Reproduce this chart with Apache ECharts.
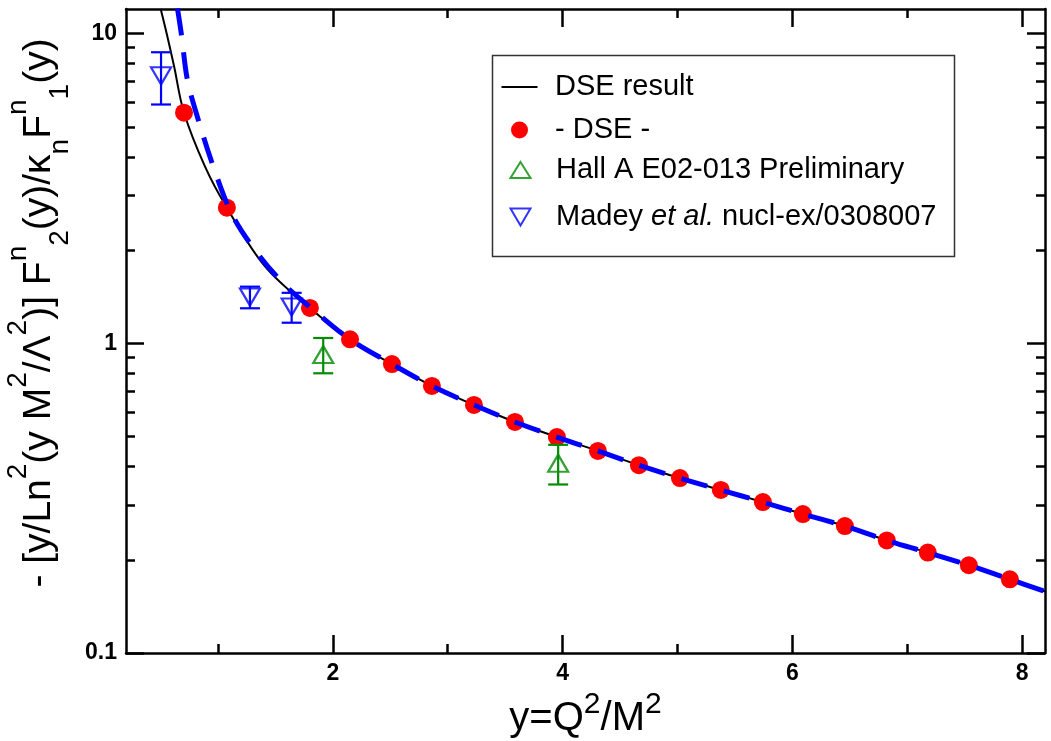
<!DOCTYPE html>
<html><head><meta charset="utf-8">
<script src="https://cdn.jsdelivr.net/npm/echarts@6/dist/echarts.min.js"></script>
<style>html,body{margin:0;padding:0;background:#fff}#c{width:1051px;height:741px}</style>
</head><body><div id="c"></div>
<script>
// ---- data ----
const dseX = [0.705, 1.078, 1.801, 2.150, 2.515, 2.863, 3.229, 3.586, 3.951, 4.308, 4.665, 5.022, 5.378, 5.744, 6.092, 6.458, 6.823, 7.180, 7.537, 7.894];
const dseY = [5.55, 2.74, 1.30, 1.03, 0.857, 0.728, 0.632, 0.557, 0.498, 0.449, 0.404, 0.367, 0.336, 0.307, 0.281, 0.257, 0.231, 0.211, 0.192, 0.173];

const curveX = [0.502, 0.554, 0.618, 0.705, 0.888, 1.078, 1.41, 1.801, 2.150, 2.515, 2.863, 3.229, 3.586, 3.951, 4.308, 4.665, 5.022, 5.378, 5.744, 6.092, 6.458, 6.823, 7.180, 7.537, 7.894, 8.2];
const curveY = [12.0, 10.0, 7.85, 5.55, 3.72, 2.74, 1.77, 1.30, 1.03, 0.857, 0.728, 0.632, 0.557, 0.498, 0.449, 0.404, 0.367, 0.336, 0.307, 0.281, 0.257, 0.231, 0.211, 0.192, 0.173, 0.158];

const dashX = [0.648, 0.685, 0.734, 0.829, 0.96, 1.12, 1.323, 1.569, 1.801, 2.150, 2.515, 2.863, 3.229, 3.586, 3.951, 4.308, 4.665, 5.022, 5.378, 5.744, 6.092, 6.458, 6.823, 7.180, 7.537, 7.894, 8.2];
const dashY = [12.05, 9.77, 7.1, 5.27, 3.72, 2.62, 2.00, 1.56, 1.31, 1.03, 0.857, 0.728, 0.632, 0.557, 0.498, 0.449, 0.404, 0.367, 0.336, 0.307, 0.281, 0.257, 0.231, 0.211, 0.192, 0.173, 0.158];

const hallX = [1.917, 3.962];
const hallY = [0.92, 0.41];
const hallErr = [0.12, 0.06];

const madeyX = [0.505, 1.279, 1.642];
const madeyY = [7.3, 1.41, 1.31];
const madeyErr = [1.40, 0.113, 0.145];

const xMajorTicks = [2, 4, 6, 8];
const xMinorTicks = [1, 3, 5, 7];
const yMajorTicks = [0.1, 1, 10];
const yMinorTicks = [0.2, 0.3, 0.4, 0.5, 0.6, 0.7, 0.8, 0.9, 2, 3, 4, 5, 6, 7, 8, 9];

const names = ['DSE result', '- DSE -', 'Hall A E02-013 Preliminary', 'Madey et al. nucl-ex/0308007'];
const xTitle = '{b|y=Q}{sup|2}{b|/M}{sup|2}';
const yTitle = '{b|- [y/Ln}{sup|2}{b|(y M}{sup|2}{b|/Λ}{sup|2}{b|)] F}{sup|n}{sub|2}{b|(y)/κ}{sub|n}{b|F}{sup|n}{sub|1}{b|(y)}';

// ---- chart ----
const FF = '"Liberation Sans", Arial, Helvetica, sans-serif';
const zip = (a, b) => a.map((v, i) => [v, b[i]]);
const errData = (x, y, e) => x.map((v, i) => [v, y[i] - e[i], y[i] + e[i]]);
const black = '#000000', red = '#ff0000', blue = '#0000ff', green = '#008b00';

const lineStyle = { color: black, width: 2.5 };
function tick(vals, len) {
  return { show: true, inside: true, length: len, customValues: vals, lineStyle: { color: black, width: 2.5 } };
}
const X0 = 0.2, X1 = 8.2, Y0 = 0.1, Y1 = 12;
const tickFont = { fontSize: 23, fontWeight: 'bold', color: black, fontFamily: FF, margin: 9 };
function xAx(pos, vals, len, line, label) {
  return { type: 'value', position: pos, min: X0, max: X1, gridIndex: 0,
    axisLine: { show: line, onZero: false, lineStyle },
    axisTick: tick(vals, len), splitLine: { show: false },
    axisLabel: label ? Object.assign({ show: true, customValues: vals }, tickFont) : { show: false } };
}
function yAx(pos, vals, len, line, label) {
  return { type: 'log', logBase: 10, position: pos, min: Y0, max: Y1, gridIndex: 0,
    axisLine: { show: line, onZero: false, lineStyle },
    axisTick: tick(vals, len), splitLine: { show: false }, minorTick: { show: false },
    axisLabel: label ? Object.assign({ show: true, customValues: vals,
      formatter: v => String(+Number(v).toPrecision(6)) }, tickFont) : { show: false } };
}
const xAxes = [xAx('bottom', xMajorTicks, 18, true, true), xAx('bottom', xMinorTicks, 9, false, false),
               xAx('top', xMajorTicks, 18, true, false), xAx('top', xMinorTicks, 9, false, false)];
const yAxes = [yAx('left', yMajorTicks, 18, true, true), yAx('left', yMinorTicks, 9, false, false),
               yAx('right', yMajorTicks, 18, true, false), yAx('right', yMinorTicks, 9, false, false)];

// rich tokens: all share one line height; asymmetric padding shifts sup up / sub down
xAxes[0].name = xTitle;
xAxes[0].nameLocation = 'middle';
xAxes[0].nameGap = 27;
xAxes[0].nameTextStyle = { color: black, fontFamily: FF, rich: {
  b: { fontSize: 40, lineHeight: 60, color: black, fontFamily: FF },
  sup: { fontSize: 30, lineHeight: 60, padding: [0, 0, 28, 0], color: black, fontFamily: FF } } };

yAxes[0].name = yTitle;
yAxes[0].nameLocation = 'middle';
yAxes[0].nameRotate = 90;
yAxes[0].nameGap = 36;
yAxes[0].nameTextStyle = { color: black, fontFamily: FF, padding: [0, 0, 0, 36], rich: {
  b: { fontSize: 39, lineHeight: 80, color: black, fontFamily: FF },
  sup: { fontSize: 28, lineHeight: 80, padding: [0, 0, 42, 0], color: black, fontFamily: FF },
  sub: { fontSize: 28, lineHeight: 80, padding: [42, 0, 0, 0], color: black, fontFamily: FF } } };

function errorBars(color) {
  return function (params, api) {
    const x = api.value(0);
    const lo = api.coord([x, api.value(1)]);
    const hi = api.coord([x, api.value(2)]);
    const h = 10;
    const st = { stroke: color, lineWidth: 2.2, fill: 'none' };
    return { type: 'group', children: [
      { type: 'line', shape: { x1: lo[0], y1: lo[1], x2: hi[0], y2: hi[1] }, style: st },
      { type: 'line', shape: { x1: lo[0] - h, y1: lo[1], x2: lo[0] + h, y2: lo[1] }, style: st },
      { type: 'line', shape: { x1: hi[0] - h, y1: hi[1], x2: hi[0] + h, y2: hi[1] }, style: st } ] };
  };
}

const TEXT_X = 555, ICON_CX = 519.5;
function leg(name, rowY, icon, iw, ih, style, extra) {
  const left = ICON_CX - iw / 2;
  const pad = TEXT_X - (left + iw + 5);
  const ts = { fontSize: 29, fontFamily: FF, color: black, lineHeight: 30, padding: [0, 0, 0, pad] };
  const o = { data: [name], left, top: rowY - 15, padding: 0, orient: 'horizontal',
    itemWidth: iw, itemHeight: ih, icon, itemStyle: style, selectedMode: false, textStyle: ts };
  if (extra) { o.formatter = extra.formatter; ts.rich = extra.rich; }
  return o;
}

const option = {
  animation: false,
  backgroundColor: '#fff',
  grid: { left: 126, right: 6, top: 9, bottom: 88, containLabel: false, outerBoundsMode: 'none' },
  xAxis: xAxes,
  yAxis: yAxes,
  legend: [
    leg(names[0], 87, 'rect', 36, 2, { color: black, borderWidth: 0 }),
    leg(names[1], 130, 'circle', 17, 17, { color: red, borderWidth: 0 }),
    leg(names[2], 170, 'path://M10,0L20,16L0,16Z', 20, 16, { color: 'rgba(0,0,0,0)', borderColor: green, borderWidth: 2 }),
    leg(names[3], 217, 'path://M0,0L20,0L10,17Z', 20, 17, { color: 'rgba(0,0,0,0)', borderColor: blue, borderWidth: 2 }, {
      formatter: () => '{n|Madey }{i|et al.}{n| nucl-ex/0308007}',
      rich: {
        n: { fontSize: 29, fontFamily: FF, color: black, lineHeight: 30 },
        i: { fontSize: 29, fontFamily: FF, color: black, lineHeight: 30, fontStyle: 'italic' } } })
  ],
  graphic: [
    { type: 'rect', shape: { x: 492.5, y: 55.5, width: 462, height: 201 }, style: { fill: 'none', stroke: '#333', lineWidth: 1.5 }, z: 1 }
  ],
  series: [
    { name: names[0], type: 'line', data: zip(curveX, curveY), smooth: 0.35, showSymbol: false, symbol: 'none',
      lineStyle: { color: black, width: 2 }, itemStyle: { color: black }, z: 2, clip: true },
    { name: names[1], type: 'scatter', data: zip(dseX, dseY), symbol: 'circle', symbolSize: 18,
      itemStyle: { color: red, opacity: 1 }, z: 3 },
    { name: 'dashed', type: 'line', data: zip(dashX, dashY), smooth: 0.35, showSymbol: false, symbol: 'none',
      lineStyle: { color: blue, width: 5, type: [27, 17], cap: 'butt' }, z: 4, clip: true },
    { name: 'hallErr', type: 'custom', data: errData(hallX, hallY, hallErr), renderItem: errorBars(green),
      encode: { x: 0, y: [1, 2] }, z: 5, clip: true },
    { name: 'madeyErr', type: 'custom', data: errData(madeyX, madeyY, madeyErr), renderItem: errorBars(blue),
      encode: { x: 0, y: [1, 2] }, z: 5, clip: true },
    { name: names[2], type: 'scatter', data: zip(hallX, hallY), symbol: 'triangle', symbolSize: [20, 17],
      itemStyle: { color: 'rgba(0,0,0,0)', borderColor: green, borderWidth: 2.2 }, z: 6 },
    { name: names[3], type: 'scatter', data: zip(madeyX, madeyY), symbol: 'triangle', symbolRotate: 180, symbolSize: [20, 17],
      itemStyle: { color: 'rgba(0,0,0,0)', borderColor: blue, borderWidth: 2.2 }, z: 6 }
  ]
};
const chart = echarts.init(document.getElementById('c'), null, { renderer: 'canvas' });
chart.setOption(option);
</script></body></html>
